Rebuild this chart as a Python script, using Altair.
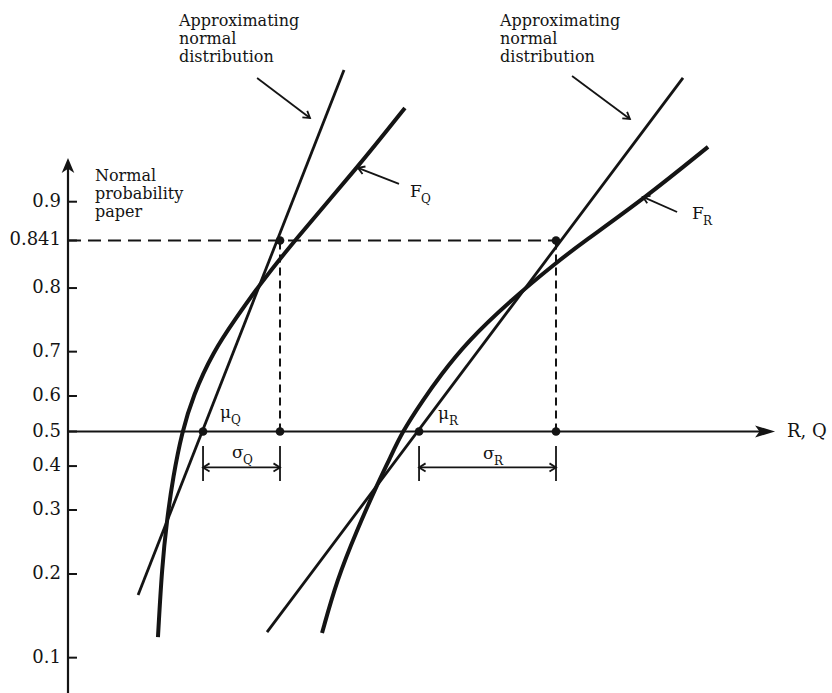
import math
import altair as alt
import pandas as pd

# Normal probability paper: printed probabilities and the height of each rule
# (in standard-normal units, 0.5 on the R, Q axis, 0.841 one sigma above it)
prob_labels = ["0.1", "0.2", "0.3", "0.4", "0.5", "0.6", "0.7", "0.8", "0.841", "0.9"]
prob_heights = [-1.184, -0.746, -0.411, -0.181, 0.0, 0.186, 0.418, 0.751, 1.0, 1.203]

# Parameters of the two approximating normal distributions
mu_q, sigma_q = 0.707, 0.403
mu_r, sigma_r = 1.838, 0.717

# Distribution functions F_Q and F_R plotted on the paper
fq_x = [0.471, 0.492, 0.518, 0.550, 0.597, 0.654, 0.759, 0.880, 0.990, 1.178, 1.518, 1.764]
fq_h = [-1.076, -0.709, -0.463, -0.238, -0.003, 0.186, 0.416, 0.594, 0.751, 0.992, 1.385, 1.694]
fr_x = [1.330, 1.408, 1.513, 1.613, 1.686, 1.749, 1.859, 1.948, 2.089, 2.319, 2.560, 2.691, 3.021, 3.351]
fr_h = [-1.055, -0.777, -0.516, -0.291, -0.139, -0.003, 0.165, 0.291, 0.469, 0.688, 0.887, 0.987, 1.223, 1.490]

# Straight lines of the approximating normal distributions (end points)
aq_x = [0.367, 1.445]
aq_h = [-0.856, 1.893]
ar_x = [1.042, 3.220]
ar_h = [-1.050, 1.851]

# Extent of the two axes (bottom of sheet .. arrow tip)
y_axis_h = [-1.369, 1.432]
x_axis_x = [0.0, 3.702]

INK = "#141414"
FONT = "DejaVu Serif"
X = alt.Scale(domain=[-0.356, 4.0], nice=False, zero=False)
Y = alt.Scale(domain=[-1.369, 2.259], nice=False, zero=False)

CHEVRON = "M-1,-0.62L0,0L-1,0.62"
BARB_Y = "M0,0L-1,-0.42L-0.72,0L-1,0.42Z"
BARB_X = "M0,0L-1,-0.3L-0.78,0L-1,0.3Z"


def pos(xf="x", yf="h"):
    return dict(x=alt.X(f"{xf}:Q", scale=X, axis=None),
                y=alt.Y(f"{yf}:Q", scale=Y, axis=None))


def segs(df):
    return dict(**pos(), x2=alt.X2("x2:Q"), y2=alt.Y2("h2:Q"))


def heading(x1, h1, x2, h2):
    return math.degrees(math.atan2(-(h2 - h1), x2 - x1)) % 360


layers = []

# --- axes ---
axes = pd.DataFrame([
    {"x": 0.0, "h": y_axis_h[0], "x2": 0.0, "h2": y_axis_h[1] - 0.03},
    {"x": 0.0, "h": 0.0, "x2": x_axis_x[1] - 0.05, "h2": 0.0},
])
layers.append(alt.Chart(axes).mark_rule(color=INK, strokeWidth=2.2).encode(**segs(axes)))
layers.append(alt.Chart(pd.DataFrame({"x": [0.0], "h": [y_axis_h[1]]})).mark_point(
    shape=BARB_Y, filled=True, size=900, angle=270, color=INK, opacity=1, strokeWidth=0
).encode(**pos()))
layers.append(alt.Chart(pd.DataFrame({"x": [x_axis_x[1]], "h": [0.0]})).mark_point(
    shape=BARB_X, filled=True, size=1600, angle=0, color=INK, opacity=1, strokeWidth=0
).encode(**pos()))

# --- probability ruling: ticks and labels ---
ticks = pd.DataFrame({"label": prob_labels, "h": prob_heights})
ticks["x"] = 0.0
ticks["x2"] = 0.047
ticks["h2"] = ticks["h"]
layers.append(alt.Chart(ticks).mark_rule(color=INK, strokeWidth=2).encode(**segs(ticks)))
layers.append(alt.Chart(ticks).mark_text(
    align="right", baseline="middle", dx=-7, font=FONT, fontSize=18, color=INK
).encode(**pos(), text="label:N"))

# --- dashed construction lines at 0.841 ---
hdash = pd.DataFrame([{"x": 0.0, "h": 1.0, "x2": mu_r + sigma_r, "h2": 1.0}])
layers.append(alt.Chart(hdash).mark_rule(color=INK, strokeWidth=2, strokeDash=[13, 7]).encode(**segs(hdash)))
vdash = pd.DataFrame([
    {"x": mu_q + sigma_q, "h": 0.0, "x2": mu_q + sigma_q, "h2": 1.0},
    {"x": mu_r + sigma_r, "h": 0.0, "x2": mu_r + sigma_r, "h2": 1.0},
])
layers.append(alt.Chart(vdash).mark_rule(color=INK, strokeWidth=2, strokeDash=[8, 5]).encode(**segs(vdash)))

# --- approximating normal lines ---
approx = pd.DataFrame({
    "x": aq_x + ar_x, "h": aq_h + ar_h,
    "curve": ["Q", "Q", "R", "R"], "i": [0, 1, 0, 1],
})
layers.append(alt.Chart(approx).mark_line(color=INK, strokeWidth=2.8).encode(
    **pos(), detail="curve:N", order="i:Q"))

# --- distribution functions ---
fdf = pd.DataFrame({
    "x": fq_x + fr_x, "h": fq_h + fr_h,
    "curve": ["FQ"] * len(fq_x) + ["FR"] * len(fr_x),
    "i": list(range(len(fq_x))) + list(range(len(fr_x))),
})
layers.append(alt.Chart(fdf).mark_line(color=INK, strokeWidth=4, interpolate="basis").encode(
    **pos(), detail="curve:N", order="i:Q"))

# --- marked points ---
dots = pd.DataFrame({
    "x": [mu_q, mu_q + sigma_q, mu_q + sigma_q, mu_r, mu_r + sigma_r, mu_r + sigma_r],
    "h": [0.0, 0.0, 1.0, 0.0, 0.0, 1.0],
})
layers.append(alt.Chart(dots).mark_point(
    shape="circle", filled=True, size=75, color=INK, opacity=1
).encode(**pos()))

# --- sigma brackets ---
brk_rows, brk_heads = [], []
for mu, sd in [(mu_q, sigma_q), (mu_r, sigma_r)]:
    for xv in (mu, mu + sd):
        brk_rows.append({"x": xv, "h": -0.076, "x2": xv, "h2": -0.259})
    brk_rows.append({"x": mu, "h": -0.188, "x2": mu + sd, "h2": -0.188})
    brk_heads.append({"x": mu, "h": -0.188, "ang": 180.0})
    brk_heads.append({"x": mu + sd, "h": -0.188, "ang": 0.0})
brk = pd.DataFrame(brk_rows)
layers.append(alt.Chart(brk).mark_rule(color=INK, strokeWidth=1.8).encode(**segs(brk)))

# --- pointer arrows to the curves ---
ptr = pd.DataFrame([
    {"x": 0.990, "h": 1.851, "x2": 1.267, "h2": 1.641},
    {"x": 1.733, "h": 1.296, "x2": 1.518, "h2": 1.380},
    {"x": 2.639, "h": 1.861, "x2": 2.942, "h2": 1.636},
    {"x": 3.189, "h": 1.149, "x2": 3.010, "h2": 1.228},
])
layers.append(alt.Chart(ptr).mark_rule(color=INK, strokeWidth=1.8).encode(**segs(ptr)))
ptr_heads = [{"x": r.x2, "h": r.h2, "ang": heading(r.x, r.h, r.x2, r.h2)} for r in ptr.itertuples()]

heads = pd.DataFrame(brk_heads + ptr_heads)
layers.append(alt.Chart(heads).mark_point(
    shape=CHEVRON, filled=False, size=170, color=INK, opacity=1, strokeWidth=1.8
).encode(**pos(), angle=alt.Angle("ang:Q", scale=None)))

# --- text annotations (one row per printed line) ---
note_lines = ["Approximating", "normal", "distribution"]
paper_lines = ["Normal", "probability", "paper"]
note_rows = []
for x0 in (0.581, 2.262):
    for k, t in enumerate(note_lines):
        note_rows.append({"x": x0, "h": 2.125 - k * 0.094, "text": t})
for k, t in enumerate(paper_lines):
    note_rows.append({"x": 0.141, "h": 1.312 - k * 0.094, "text": t})
notes = pd.DataFrame(note_rows)
layers.append(alt.Chart(notes).mark_text(
    align="left", baseline="alphabetic", font=FONT, fontSize=16, color=INK
).encode(**pos(), text="text:N"))

axis_name = pd.DataFrame([{"x": 3.764, "h": 0.0, "text": "R, Q"}])
layers.append(alt.Chart(axis_name).mark_text(
    align="left", baseline="middle", font=FONT, fontSize=18, color=INK
).encode(**pos(), text="text:N"))

# symbols with subscripts
symbols = pd.DataFrame([
    {"x": 1.791, "h": 1.228, "main": "F", "sub": "Q"},
    {"x": 3.267, "h": 1.113, "main": "F", "sub": "R"},
    {"x": 0.796, "h": 0.071, "main": "μ", "sub": "Q"},
    {"x": 1.937, "h": 0.065, "main": "μ", "sub": "R"},
    {"x": 0.859, "h": -0.139, "main": "σ", "sub": "Q"},
    {"x": 2.173, "h": -0.144, "main": "σ", "sub": "R"},
])
layers.append(alt.Chart(symbols).mark_text(
    align="left", baseline="alphabetic", font=FONT, fontSize=17, color=INK
).encode(**pos(), text="main:N"))
layers.append(alt.Chart(symbols).mark_text(
    align="left", baseline="alphabetic", dx=11, dy=6, font=FONT, fontSize=12, color=INK
).encode(**pos(), text="sub:N"))

chart = alt.layer(*layers).properties(
    width=832, height=693, padding=0, autosize=alt.AutoSizeParams(type="none"),
    background="white",
).configure_view(stroke=None)

chart.save("out.html", embed_options={"renderer": "svg", "actions": False})
